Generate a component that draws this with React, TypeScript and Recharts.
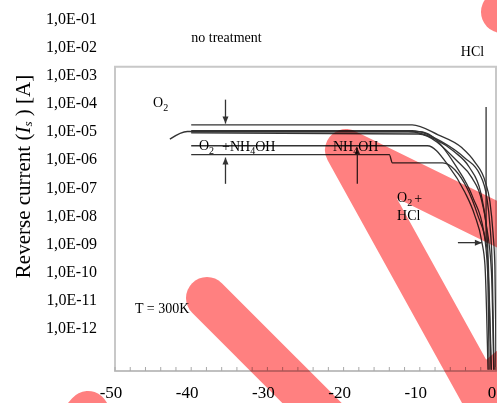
import React from "react";
import {
  ComposedChart,
  Line,
  XAxis,
  YAxis,
  ReferenceArea,
  ReferenceLine,
  ReferenceDot,
} from "recharts";

// reverse voltage [V] / reverse current [A]
const voltageTop = [-40, -11, -7.6, -4.5, -2.8, -1.4, -0.8, -0.4, -0.15, -0.05, 0];
const currentTop = [1.6e-5, 1.6e-5, 7.1e-6, 2.5e-6, 7.8e-7, 1.5e-7, 3.0e-8, 2.5e-9, 1.6e-10, 2.0e-12, 3.2e-14];

const voltageO2 = [-42.8, -40.5, -11.5, -8, -5.5, -3.5, -2, -1.3, -0.6, -0.3];
const currentO2 = [5.0e-6, 9.3e-6, 9.3e-6, 5.0e-6, 1.8e-6, 5.0e-7, 6.3e-8, 5.0e-9, 1.0e-10, 3.2e-14];

const voltageB = [-40, -11, -7.1, -4.1, -2.1, -1.2, -0.8, -0.5, -0.25];
const currentB = [1.0e-5, 1.0e-5, 4.0e-6, 1.07e-6, 2.7e-7, 4.1e-8, 4.5e-9, 1.7e-10, 3.2e-14];

const voltageC = [-40, -10.2, -5, -3.15, -1.85, -1.2, -1.0, -0.6];
const currentC = [8.3e-6, 7.6e-6, 7.8e-7, 2.1e-7, 3.0e-8, 2.5e-9, 1.7e-10, 3.2e-14];

const voltageHcl = [-40, -10, -8.4, -5.4, -3, -1.6, -1.1, -0.9];
const currentHcl = [9.1e-6, 9.1e-6, 6.3e-6, 6.3e-7, 4.0e-8, 2.5e-9, 1.0e-10, 3.2e-14];

const voltageNh4oh = [-40, -9, -6.3, -4.1, -2.8, -1.85, -1.45, -1.05];
const currentNh4oh = [2.9e-6, 2.9e-6, 6.0e-7, 6.6e-8, 1.0e-8, 1.1e-9, 1.7e-10, 3.2e-14];

const voltageLow = [-40, -14, -13.6, -7, -5.4, -2.4, -1.2, -0.65];
const currentLow = [1.4e-6, 1.4e-6, 7.2e-7, 7.2e-7, 4.1e-7, 1.0e-8, 6.9e-10, 3.2e-14];

const xTicks = [-50, -48, -46, -44, -42, -40, -38, -36, -34, -32, -30, -28, -26, -24, -22, -20, -18, -16, -14, -12, -10, -8, -6, -4, -2, 0];
const yTicks = [1e-1, 1e-2, 1e-3, 1e-4, 1e-5, 1e-6, 1e-7, 1e-8, 1e-9, 1e-10, 1e-11, 1e-12];
const yTickLabels = ["1,0E-01", "1,0E-02", "1,0E-03", "1,0E-04", "1,0E-05", "1,0E-06", "1,0E-07", "1,0E-08", "1,0E-09", "1,0E-10", "1,0E-11", "1,0E-12"];

const yMin = 2.9e-14;
const yMax = 0.1;
const frameTop = 1.86e-3;

// arrows drawn on the plot
const arrows = [
  { x1: -35.5, y1: 1.26e-4, x2: -35.5, y2: 1.78e-5, head: "down" },
  { x1: -35.5, y1: 1.29e-7, x2: -35.5, y2: 1.1e-6, head: "up" },
  { x1: -18.2, y1: 1.29e-7, x2: -18.2, y2: 2.45e-6, head: "up" },
  { x1: -1.3, y1: 6.9e-5, x2: -1.3, y2: 1.0e-9, head: "" },
  { x1: -5.0, y1: 1.05e-9, x2: -1.85, y2: 1.05e-9, head: "right" },
];

const toSeries = (v: number[], c: number[]) => v.map((x, k) => ({ v: x, i: c[k] }));

const curves = [
  toSeries(voltageTop, currentTop),
  toSeries(voltageO2, currentO2),
  toSeries(voltageB, currentB),
  toSeries(voltageC, currentC),
  toSeries(voltageHcl, currentHcl),
  toSeries(voltageNh4oh, currentNh4oh),
  toSeries(voltageLow, currentLow),
];

const serif = "'Liberation Serif', 'Times New Roman', serif";
const ink = "#333";

const yLabel = (v: number) => {
  const k = yTicks.findIndex((t) => Math.abs(Math.log10(t) - Math.log10(v)) < 0.01);
  return k >= 0 ? yTickLabels[k] : "";
};

const Title = (props: any) => {
  const vb = props.viewBox || { x: 0, y: 18, height: 353 };
  const cx = vb.x + 23;
  const cy = vb.y + vb.height / 2 - 18;
  return (
    <text
      x={cx}
      y={cy}
      transform={`rotate(-90, ${cx}, ${cy})`}
      textAnchor="middle"
      dominantBaseline="central"
      fontSize={21}
      fontFamily={serif}
      fill="#000"
    >
      Reverse current (
      <tspan fontStyle="italic">I</tspan>
      <tspan fontStyle="italic" fontSize={13} dy={4}>s</tspan>
      <tspan dy={-4}> ) [A]</tspan>
    </text>
  );
};

const note = (content: React.ReactNode, anchor = "start") => (p: any) => (
  <text
    x={p.cx}
    y={p.cy}
    textAnchor={anchor}
    dominantBaseline="central"
    fontSize={14}
    fontFamily={serif}
    fill="#000"
  >
    {content}
  </text>
);

const sub = (s: string) => [
  <tspan key="a" fontSize={10} dy={4}>{s}</tspan>,
];

const arrowHead = (dir: string) => (p: any) => {
  const { cx, cy } = p;
  let d = "";
  if (dir === "down") d = `M${cx - 3},${cy - 7}L${cx + 3},${cy - 7}L${cx},${cy}Z`;
  if (dir === "up") d = `M${cx - 3},${cy + 7}L${cx + 3},${cy + 7}L${cx},${cy}Z`;
  if (dir === "right") d = `M${cx - 7},${cy - 3}L${cx - 7},${cy + 3}L${cx},${cy}Z`;
  return <path d={d} fill={ink} />;
};

const Watermark = () => (
  <svg
    width={497}
    height={403}
    style={{ position: "absolute", left: 0, top: 0, pointerEvents: "none", mixBlendMode: "multiply" }}
  >
    <g stroke="#ff8080" strokeWidth={42} strokeLinecap="round" strokeLinejoin="round" fill="none">
      <path d="M207 298 L345 436" />
      <path d="M88 412 L55 450" />
      <path d="M560 255 L346 150 L480 392 L570 318" />
      <path d="M502 12 L545 -30" />
    </g>
  </svg>
);

export default function App() {
  return (
    <div style={{ position: "absolute", left: 0, top: 0, width: 497, height: 403, background: "#fff" }}>
      <ComposedChart width={497} height={403} margin={{ top: 18, right: 1, bottom: 0, left: 0 }}>
        <XAxis
          type="number"
          dataKey="v"
          domain={[-50, 0]}
          ticks={xTicks}
          interval={0}
          allowDataOverflow
          height={32}
          axisLine={{ stroke: "#c0c0c0", strokeWidth: 2 }}
          tickLine={{ stroke: "#a8a8a8" }}
          tickSize={-4}
          tickMargin={19}
          tick={{ fontSize: 17, fill: "#000", fontFamily: serif, dx: -4 }}
          tickFormatter={(v: number) => (v % 10 === 0 ? String(v) : "")}
        />
        <YAxis
          type="number"
          scale="log"
          domain={[yMin, yMax]}
          allowDataOverflow
          ticks={yTicks}
          interval={0}
          width={115}
          axisLine={false}
          tickLine={false}
          tickSize={0}
          tickMargin={18}
          tick={{ fontSize: 16, fill: "#000", fontFamily: serif }}
          tickFormatter={yLabel}
          label={(p: any) => <Title {...p} />}
        />
        <ReferenceArea
          x1={-50}
          x2={0}
          y1={yMin}
          y2={frameTop}
          fill="none"
          stroke="#c8c8c8"
          strokeWidth={2}
          ifOverflow="visible"
        />
        {curves.map((data, k) => (
          <Line
            key={k}
            data={data}
            dataKey="i"
            type="monotone"
            stroke={ink}
            strokeWidth={1.3}
            dot={false}
            isAnimationActive={false}
          />
        ))}
        {arrows.map((a, k) => (
          <ReferenceLine
            key={`l${k}`}
            segment={[
              { x: a.x1, y: a.y1 },
              { x: a.x2, y: a.y2 },
            ]}
            stroke={ink}
            strokeWidth={1.3}
            ifOverflow="visible"
          />
        ))}
        {arrows
          .filter((a) => a.head)
          .map((a, k) => (
            <ReferenceDot key={`h${k}`} x={a.x2} y={a.y2} r={0} ifOverflow="visible" shape={arrowHead(a.head)} />
          ))}
        <ReferenceDot x={-35.37} y={0.02} r={0} ifOverflow="visible" shape={note("no treatment", "middle")} />
        <ReferenceDot x={-3.08} y={6.3e-3} r={0} ifOverflow="visible" shape={note("HCl", "middle")} />
        <ReferenceDot x={-45} y={9.8e-5} r={0} ifOverflow="visible" shape={note(<>O{sub("2")}</>)} />
        <ReferenceDot
          x={-38.98}
          y={2.9e-6}
          r={0}
          ifOverflow="visible"
          shape={note(
            <>
              O{sub("2")}
              <tspan dx={8} dy={-4}>+NH</tspan>
              {sub("4")}
              <tspan dy={-4}>OH</tspan>
            </>
          )}
        />
        <ReferenceDot
          x={-21.39}
          y={2.75e-6}
          r={0}
          ifOverflow="visible"
          shape={note(
            <>
              NH{sub("4")}
              <tspan dy={-4}>OH</tspan>
            </>
          )}
        />
        <ReferenceDot
          x={-12.99}
          y={4.1e-8}
          r={0}
          ifOverflow="visible"
          shape={note(
            <>
              O{sub("2")}
              <tspan dx={2} dy={-4}>+</tspan>
            </>
          )}
        />
        <ReferenceDot x={-12.99} y={9.8e-9} r={0} ifOverflow="visible" shape={note("HCl")} />
        <ReferenceDot x={-47.38} y={4.8e-12} r={0} ifOverflow="visible" shape={note("T = 300K")} />
      </ComposedChart>
      <Watermark />
    </div>
  );
}
